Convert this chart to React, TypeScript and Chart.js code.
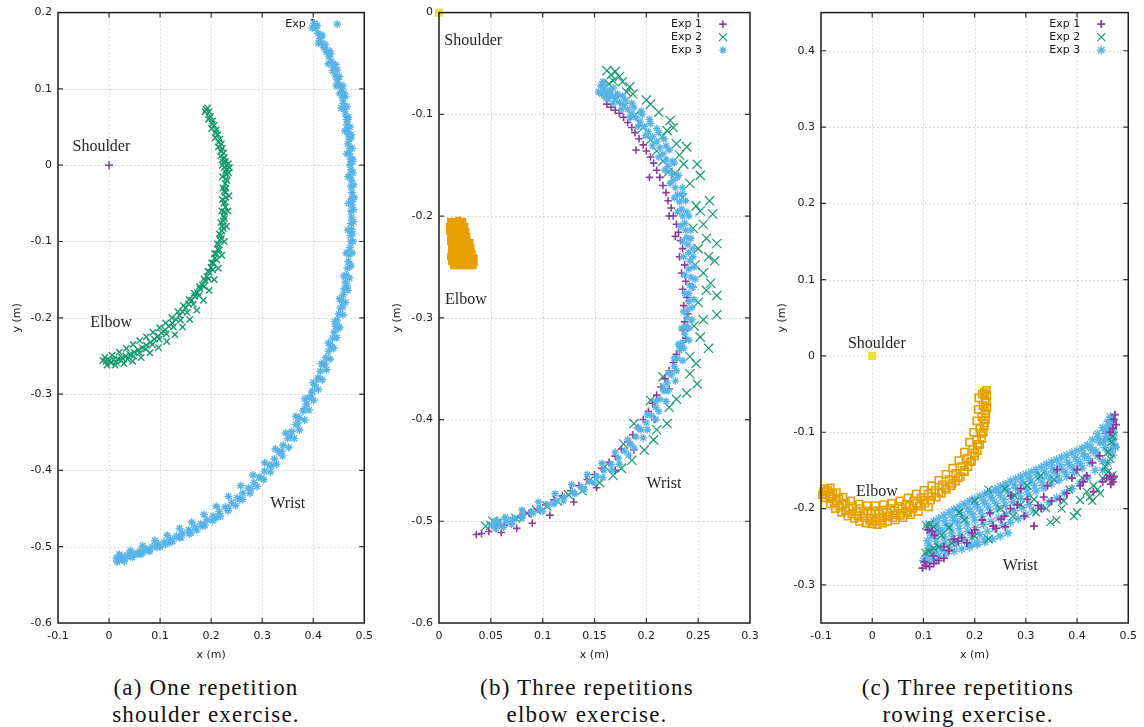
import React, { useEffect, useRef } from "react";
import { Chart, registerables } from "chart.js";

Chart.register(...registerables);

type Pt = [number, number];
type Mark = "cross" | "crossRot" | "star" | "rect";

const PURPLE = "#8c3d9e";
const GREEN = "#17996f";
const BLUE = "#58b3e6";
const ORANGE = "#e6a000";
const YELLOW = "#efe143";

// ---------- tick positions ----------
const ticksAX = [-0.1, 0, 0.1, 0.2, 0.3, 0.4, 0.5];
const ticksAY = [-0.6, -0.5, -0.4, -0.3, -0.2, -0.1, 0, 0.1, 0.2];
const ticksBX = [0, 0.05, 0.1, 0.15, 0.2, 0.25, 0.3];
const ticksBY = [-0.6, -0.5, -0.4, -0.3, -0.2, -0.1, 0];
const ticksCX = [-0.1, 0, 0.1, 0.2, 0.3, 0.4, 0.5];
const ticksCY = [-0.3, -0.2, -0.1, 0, 0.1, 0.2, 0.3, 0.4];

// ---------- (a) one repetition, shoulder exercise ----------
const shoulderA: Pt[] = [[0, 0]];

const elbowA: Pt[] = [
  [0.193, 0.075], [0.196, 0.07], [0.199, 0.064], [0.203, 0.058], [0.206, 0.052], [0.21, 0.046], [0.213, 0.04],
  [0.217, 0.034], [0.22, 0.028], [0.222, 0.022], [0.225, 0.016], [0.226, 0.01], [0.228, 0.005], [0.23, 0.0],
  [0.226, -0.003], [0.232, -0.005], [0.228, -0.008], [0.234, 0.002], [0.224, 0.004], [0.23, -0.012], [0.229, -0.018],
  [0.228, -0.024], [0.229, -0.03], [0.228, -0.036], [0.229, -0.042], [0.227, -0.048], [0.228, -0.055], [0.226, -0.061],
  [0.225, -0.067], [0.224, -0.073], [0.222, -0.08], [0.221, -0.086], [0.219, -0.092], [0.217, -0.098], [0.215, -0.104],
  [0.213, -0.11], [0.21, -0.116], [0.207, -0.122], [0.204, -0.128], [0.2, -0.134], [0.196, -0.14], [0.192, -0.146],
  [0.188, -0.151], [0.183, -0.157], [0.178, -0.162], [0.173, -0.167], [0.168, -0.172], [0.162, -0.177], [0.156, -0.182],
  [0.15, -0.187], [0.144, -0.192], [0.138, -0.197], [0.131, -0.202], [0.124, -0.207], [0.117, -0.211], [0.11, -0.216],
  [0.103, -0.22], [0.096, -0.224], [0.089, -0.228], [0.081, -0.232], [0.073, -0.236], [0.065, -0.239], [0.057, -0.242],
  [0.049, -0.245], [0.041, -0.248], [0.033, -0.25], [0.025, -0.252], [0.017, -0.254], [0.009, -0.255], [0.001, -0.256],
  [-0.006, -0.257], [-0.012, -0.256], [0.004, -0.259], [0.014, -0.258], [0.024, -0.256], [0.036, -0.254], [0.048, -0.25],
  [0.06, -0.246], [0.072, -0.241], [0.085, -0.235], [0.098, -0.228], [0.112, -0.221], [0.126, -0.212], [0.14, -0.203],
  [0.153, -0.193], [0.165, -0.182], [0.176, -0.171], [0.186, -0.159], [0.195, -0.149], [0.203, -0.137], [0.211, -0.124],
  [0.216, -0.111], [0.22, -0.096], [0.224, -0.083], [0.226, -0.07], [0.225, -0.05], [0.226, -0.034], [0.231, -0.02],
  [0.223, 0.008], [0.219, 0.018], [0.215, 0.03], [0.209, 0.042], [0.202, 0.054], [0.197, 0.062], [0.19, 0.073],
  [0.188, 0.07], [0.195, 0.06], [0.201, 0.048], [0.208, 0.036], [0.214, 0.024], [0.219, 0.012], [0.222, 0.0],
  [0.222, -0.015], [0.223, -0.03], [0.222, -0.045], [0.221, -0.06], [0.219, -0.075], [0.216, -0.09], [0.212, -0.103],
  [0.207, -0.116], [0.201, -0.128], [0.194, -0.139], [0.186, -0.149], [0.177, -0.159], [0.167, -0.168], [0.157, -0.176],
  [0.146, -0.184], [0.135, -0.192], [0.123, -0.2], [0.111, -0.207], [0.099, -0.213], [0.086, -0.219], [0.073, -0.225],
  [0.06, -0.23], [0.047, -0.235], [0.034, -0.24], [0.02, -0.245], [0.006, -0.249], [-0.008, -0.252],
  [0.236, -0.003], [0.234, -0.01], [0.235, -0.04], [0.233, -0.06], [0.23, -0.08], [0.226, -0.1], [0.221, -0.118],
  [0.214, -0.135], [0.206, -0.15], [0.196, -0.164], [0.185, -0.177], [0.172, -0.19], [0.158, -0.202], [0.144, -0.212],
  [0.129, -0.222], [0.113, -0.231], [0.097, -0.239], [0.08, -0.246], [0.063, -0.252], [0.046, -0.257], [0.029, -0.26],
  [0.012, -0.262], [-0.004, -0.262],
];

const wristA: Pt[] = [
  [0.402, 0.186], [0.405, 0.18], [0.409, 0.173], [0.413, 0.166], [0.417, 0.16], [0.421, 0.154], [0.426, 0.148],
  [0.431, 0.142], [0.436, 0.136], [0.44, 0.13], [0.438, 0.124], [0.443, 0.118], [0.447, 0.112], [0.45, 0.106],
  [0.455, 0.1], [0.452, 0.094], [0.457, 0.088], [0.459, 0.081], [0.461, 0.074], [0.463, 0.067], [0.465, 0.06],
  [0.466, 0.053], [0.467, 0.046], [0.469, 0.04], [0.471, 0.034], [0.468, 0.028], [0.472, 0.022], [0.471, 0.015],
  [0.473, 0.008], [0.472, 0.001], [0.474, -0.006], [0.473, -0.013], [0.475, -0.02], [0.474, -0.028], [0.476, -0.036],
  [0.475, -0.044], [0.476, -0.052], [0.474, -0.06], [0.475, -0.068], [0.474, -0.076], [0.475, -0.084], [0.473, -0.092],
  [0.474, -0.1], [0.472, -0.108], [0.47, -0.117], [0.469, -0.126], [0.467, -0.135], [0.465, -0.144], [0.463, -0.153],
  [0.461, -0.162], [0.459, -0.17], [0.456, -0.178], [0.453, -0.187], [0.45, -0.195], [0.447, -0.203], [0.444, -0.211],
  [0.441, -0.219], [0.438, -0.227], [0.434, -0.236], [0.43, -0.244], [0.425, -0.252], [0.42, -0.261], [0.414, -0.27],
  [0.409, -0.279], [0.403, -0.288], [0.398, -0.296], [0.393, -0.305], [0.387, -0.313], [0.38, -0.322], [0.373, -0.331],
  [0.366, -0.34], [0.358, -0.349], [0.35, -0.358], [0.341, -0.367], [0.333, -0.376], [0.324, -0.385], [0.314, -0.393],
  [0.304, -0.401], [0.294, -0.409], [0.284, -0.416], [0.273, -0.423], [0.262, -0.43], [0.251, -0.436], [0.24, -0.442],
  [0.228, -0.448], [0.216, -0.454], [0.204, -0.46], [0.192, -0.465], [0.18, -0.47], [0.168, -0.474], [0.156, -0.478],
  [0.144, -0.482], [0.132, -0.486], [0.12, -0.49], [0.108, -0.494], [0.096, -0.497], [0.084, -0.5], [0.072, -0.503],
  [0.06, -0.506], [0.048, -0.509], [0.036, -0.511], [0.025, -0.513], [0.014, -0.515], [0.02, -0.518], [0.03, -0.516],
  [0.042, -0.513], [0.055, -0.51], [0.066, -0.508], [0.08, -0.505], [0.1, -0.5], [0.118, -0.495], [0.138, -0.488],
  [0.16, -0.482], [0.184, -0.473], [0.21, -0.462], [0.234, -0.45], [0.256, -0.438], [0.278, -0.424], [0.298, -0.41],
  [0.318, -0.394], [0.338, -0.375], [0.355, -0.356], [0.37, -0.338], [0.384, -0.319], [0.396, -0.301], [0.411, -0.28],
  [0.423, -0.26], [0.436, -0.238], [0.449, -0.214], [0.458, -0.186], [0.466, -0.158], [0.471, -0.13], [0.477, -0.09],
  [0.478, -0.045], [0.477, 0.005], [0.474, 0.04], [0.468, 0.06], [0.46, 0.095], [0.447, 0.125], [0.432, 0.15],
  [0.418, 0.17],
  [0.408, 0.183], [0.415, 0.17], [0.424, 0.158], [0.434, 0.146], [0.444, 0.132], [0.451, 0.116], [0.458, 0.104],
  [0.463, 0.09], [0.466, 0.077], [0.469, 0.063], [0.472, 0.05], [0.474, 0.036], [0.476, 0.022], [0.477, 0.008],
  [0.478, -0.01], [0.479, -0.026], [0.48, -0.042], [0.479, -0.058], [0.479, -0.074], [0.478, -0.1], [0.476, -0.115],
  [0.474, -0.132], [0.471, -0.148], [0.468, -0.164], [0.463, -0.18], [0.458, -0.196], [0.452, -0.212], [0.446, -0.226],
  [0.44, -0.24], [0.433, -0.254], [0.426, -0.268], [0.418, -0.281], [0.41, -0.294], [0.401, -0.308], [0.392, -0.321],
  [0.383, -0.334], [0.373, -0.347], [0.363, -0.358], [0.352, -0.37], [0.34, -0.381], [0.328, -0.392], [0.316, -0.402],
  [0.303, -0.412], [0.29, -0.421], [0.276, -0.43], [0.262, -0.438], [0.248, -0.446], [0.233, -0.453], [0.218, -0.46],
  [0.203, -0.466], [0.188, -0.472], [0.172, -0.478], [0.157, -0.483], [0.141, -0.488], [0.125, -0.493], [0.11, -0.497],
  [0.094, -0.501], [0.078, -0.506], [0.062, -0.51], [0.046, -0.514], [0.03, -0.519], [0.016, -0.52],
  [0.398, 0.18], [0.41, 0.16], [0.43, 0.133], [0.445, 0.104], [0.455, 0.075], [0.462, 0.045], [0.466, 0.015],
  [0.468, -0.015], [0.469, -0.05], [0.468, -0.085], [0.465, -0.115], [0.46, -0.145], [0.452, -0.175], [0.442, -0.205],
  [0.43, -0.233], [0.416, -0.26], [0.4, -0.285], [0.384, -0.306], [0.366, -0.329], [0.346, -0.351], [0.326, -0.372],
  [0.305, -0.39], [0.282, -0.406], [0.258, -0.42], [0.234, -0.434], [0.21, -0.447], [0.186, -0.458], [0.162, -0.468],
  [0.138, -0.476], [0.114, -0.485], [0.09, -0.492], [0.066, -0.499], [0.042, -0.505], [0.02, -0.51],
];

// ---------- (b) three repetitions, elbow exercise ----------
const shoulderB: Pt[] = [[0, 0]];

const elbowB: Pt[] = [
  [0.011, -0.205], [0.015, -0.205], [0.019, -0.204], [0.023, -0.205],
  [0.01, -0.21], [0.014, -0.21], [0.018, -0.21], [0.022, -0.21], [0.025, -0.21],
  [0.01, -0.215], [0.014, -0.215], [0.018, -0.215], [0.022, -0.215], [0.026, -0.215],
  [0.011, -0.22], [0.015, -0.22], [0.019, -0.22], [0.023, -0.22], [0.027, -0.22],
  [0.011, -0.225], [0.015, -0.225], [0.019, -0.225], [0.023, -0.225], [0.027, -0.225], [0.03, -0.226],
  [0.012, -0.23], [0.016, -0.23], [0.02, -0.23], [0.024, -0.23], [0.028, -0.23], [0.031, -0.231],
  [0.012, -0.235], [0.016, -0.235], [0.02, -0.235], [0.024, -0.235], [0.028, -0.235], [0.032, -0.236],
  [0.011, -0.24], [0.015, -0.24], [0.019, -0.24], [0.023, -0.24], [0.027, -0.24], [0.031, -0.24], [0.034, -0.241],
  [0.012, -0.245], [0.016, -0.245], [0.02, -0.245], [0.024, -0.245], [0.028, -0.245], [0.032, -0.245], [0.034, -0.246],
  [0.014, -0.249], [0.018, -0.249], [0.022, -0.249], [0.026, -0.249], [0.03, -0.249], [0.033, -0.249],
];

const exp1B: Pt[] = [
  [0.162, -0.09], [0.166, -0.093], [0.17, -0.096], [0.174, -0.099], [0.178, -0.103], [0.182, -0.108], [0.186, -0.113],
  [0.189, -0.118], [0.193, -0.124], [0.197, -0.13], [0.2, -0.136], [0.204, -0.142], [0.207, -0.148], [0.21, -0.155],
  [0.213, -0.162], [0.216, -0.17], [0.219, -0.177], [0.221, -0.185], [0.224, -0.192], [0.226, -0.2], [0.229, -0.208],
  [0.231, -0.216], [0.233, -0.224], [0.235, -0.232], [0.232, -0.24], [0.237, -0.248], [0.234, -0.256], [0.238, -0.264],
  [0.235, -0.272], [0.239, -0.28], [0.236, -0.288], [0.24, -0.296], [0.237, -0.304], [0.235, -0.312], [0.238, -0.32],
  [0.233, -0.328], [0.229, -0.336], [0.226, -0.344], [0.222, -0.352], [0.218, -0.36], [0.214, -0.368], [0.21, -0.376],
  [0.206, -0.384], [0.202, -0.392], [0.197, -0.4], [0.192, -0.408], [0.187, -0.415], [0.182, -0.422], [0.176, -0.429],
  [0.17, -0.436], [0.164, -0.442], [0.157, -0.448], [0.15, -0.454], [0.143, -0.459], [0.135, -0.465], [0.127, -0.47],
  [0.119, -0.475], [0.111, -0.479], [0.103, -0.484], [0.095, -0.488], [0.087, -0.492], [0.079, -0.496], [0.071, -0.5],
  [0.063, -0.504], [0.055, -0.507], [0.048, -0.51], [0.041, -0.512], [0.036, -0.513], [0.06, -0.511], [0.075, -0.507],
  [0.09, -0.502], [0.107, -0.494], [0.13, -0.481], [0.152, -0.467], [0.17, -0.45], [0.188, -0.43], [0.208, -0.4],
  [0.222, -0.37], [0.24, -0.31], [0.245, -0.27], [0.228, -0.22], [0.222, -0.2], [0.203, -0.162], [0.19, -0.135],
];

const exp2B: Pt[] = [
  [0.162, -0.057], [0.166, -0.061], [0.17, -0.058], [0.174, -0.063], [0.168, -0.067], [0.177, -0.068], [0.164, -0.07],
  [0.184, -0.073], [0.187, -0.08], [0.181, -0.078], [0.162, -0.08], [0.17, -0.086], [0.178, -0.093], [0.188, -0.102],
  [0.197, -0.113], [0.204, -0.125], [0.21, -0.136], [0.216, -0.146], [0.221, -0.157], [0.204, -0.09], [0.2, -0.086],
  [0.212, -0.098], [0.223, -0.106], [0.226, -0.113], [0.22, -0.116], [0.215, -0.122], [0.229, -0.129], [0.239, -0.132],
  [0.232, -0.14], [0.249, -0.149], [0.236, -0.149], [0.252, -0.16], [0.242, -0.168], [0.228, -0.158], [0.235, -0.182],
  [0.261, -0.185], [0.248, -0.19], [0.264, -0.198], [0.252, -0.195], [0.255, -0.208], [0.245, -0.212], [0.268, -0.227],
  [0.258, -0.222], [0.25, -0.232], [0.266, -0.244], [0.26, -0.24], [0.247, -0.248], [0.255, -0.256], [0.258, -0.273],
  [0.268, -0.278], [0.262, -0.266], [0.25, -0.285], [0.255, -0.302], [0.268, -0.297], [0.246, -0.308], [0.252, -0.319],
  [0.26, -0.33], [0.242, -0.338], [0.248, -0.345], [0.242, -0.355], [0.249, -0.365], [0.239, -0.374], [0.216, -0.358],
  [0.229, -0.38], [0.222, -0.388], [0.204, -0.381], [0.22, -0.404], [0.21, -0.41], [0.207, -0.42], [0.188, -0.404],
  [0.178, -0.424], [0.198, -0.43], [0.186, -0.44], [0.176, -0.448], [0.168, -0.455], [0.155, -0.462], [0.16, -0.446],
  [0.145, -0.46], [0.138, -0.47], [0.125, -0.474], [0.114, -0.48], [0.104, -0.485], [0.094, -0.489], [0.085, -0.492],
  [0.074, -0.497], [0.065, -0.5], [0.056, -0.502], [0.05, -0.504], [0.052, -0.5], [0.045, -0.505],
];

const exp3B: Pt[] = [
  [0.156, -0.072], [0.159, -0.075], [0.162, -0.078], [0.166, -0.081], [0.17, -0.084], [0.174, -0.088], [0.178, -0.091],
  [0.182, -0.095], [0.186, -0.099], [0.19, -0.103], [0.194, -0.107], [0.198, -0.112], [0.202, -0.117], [0.206, -0.122],
  [0.21, -0.127], [0.213, -0.133], [0.216, -0.139], [0.219, -0.145], [0.221, -0.151], [0.224, -0.158], [0.226, -0.165],
  [0.228, -0.172], [0.23, -0.179], [0.232, -0.186], [0.234, -0.193], [0.235, -0.2], [0.237, -0.207], [0.238, -0.214],
  [0.239, -0.221], [0.24, -0.228], [0.241, -0.236], [0.242, -0.244], [0.241, -0.252], [0.243, -0.26], [0.242, -0.268],
  [0.241, -0.276], [0.241, -0.284], [0.24, -0.292], [0.239, -0.3], [0.238, -0.308], [0.237, -0.316], [0.235, -0.324],
  [0.232, -0.332], [0.23, -0.34], [0.227, -0.348], [0.224, -0.356], [0.22, -0.364], [0.217, -0.372], [0.213, -0.38],
  [0.209, -0.388], [0.205, -0.396], [0.2, -0.403], [0.195, -0.41], [0.19, -0.417], [0.185, -0.424], [0.179, -0.431],
  [0.173, -0.438], [0.166, -0.444], [0.159, -0.45], [0.152, -0.456], [0.145, -0.461], [0.137, -0.466], [0.129, -0.471],
  [0.121, -0.476], [0.113, -0.48], [0.105, -0.484], [0.097, -0.488], [0.089, -0.491], [0.081, -0.494], [0.073, -0.497],
  [0.065, -0.5], [0.058, -0.502], [0.051, -0.504], [0.055, -0.507], [0.062, -0.506], [0.07, -0.503], [0.165, -0.076],
  [0.172, -0.08], [0.18, -0.086], [0.188, -0.093], [0.196, -0.1], [0.204, -0.109], [0.212, -0.118], [0.219, -0.131],
  [0.225, -0.146], [0.23, -0.162], [0.235, -0.178], [0.239, -0.196], [0.243, -0.214], [0.245, -0.232], [0.246, -0.25],
  [0.245, -0.27], [0.244, -0.29], [0.241, -0.31], [0.236, -0.33], [0.229, -0.352], [0.221, -0.372], [0.212, -0.392],
  [0.201, -0.41], [0.188, -0.428], [0.174, -0.444], [0.158, -0.457], [0.14, -0.469], [0.12, -0.48], [0.1, -0.49],
  [0.08, -0.497], [0.16, -0.07], [0.157, -0.08], [0.163, -0.085],
  [0.158, -0.068], [0.168, -0.074], [0.177, -0.082], [0.186, -0.089], [0.195, -0.097], [0.203, -0.105], [0.21, -0.114],
  [0.217, -0.124], [0.222, -0.135], [0.227, -0.148], [0.231, -0.16], [0.235, -0.172], [0.238, -0.185], [0.241, -0.2],
  [0.243, -0.222], [0.245, -0.24], [0.247, -0.262], [0.246, -0.282], [0.244, -0.302], [0.241, -0.322], [0.235, -0.342],
  [0.228, -0.362], [0.219, -0.382], [0.209, -0.4], [0.197, -0.418], [0.183, -0.435], [0.167, -0.45], [0.15, -0.462],
  [0.131, -0.473], [0.111, -0.483], [0.091, -0.492], [0.071, -0.5], [0.057, -0.5],
  [0.154, -0.078], [0.161, -0.084], [0.168, -0.089], [0.176, -0.095], [0.184, -0.103], [0.192, -0.112], [0.199, -0.121],
  [0.206, -0.131], [0.212, -0.142], [0.218, -0.155], [0.223, -0.168], [0.227, -0.182], [0.23, -0.196], [0.233, -0.21],
  [0.235, -0.225], [0.236, -0.24], [0.237, -0.258], [0.237, -0.276], [0.236, -0.294], [0.234, -0.31], [0.231, -0.326],
  [0.227, -0.34], [0.222, -0.354], [0.216, -0.368], [0.209, -0.382], [0.201, -0.395], [0.192, -0.408], [0.182, -0.42],
  [0.17, -0.432], [0.157, -0.443], [0.143, -0.454], [0.128, -0.464], [0.112, -0.473], [0.096, -0.481], [0.08, -0.489],
  [0.064, -0.496], [0.054, -0.5],
];

// ---------- (c) three repetitions, rowing exercise ----------
const shoulderC: Pt[] = [[0, 0]];

const elbowC: Pt[] = [
  [0.223, -0.045], [0.224, -0.052], [0.223, -0.06], [0.224, -0.068], [0.222, -0.076], [0.221, -0.084], [0.219, -0.092],
  [0.217, -0.1], [0.214, -0.108], [0.21, -0.116], [0.205, -0.124], [0.2, -0.131], [0.194, -0.138], [0.187, -0.145],
  [0.18, -0.152], [0.172, -0.158], [0.163, -0.164], [0.154, -0.17], [0.145, -0.175], [0.135, -0.18], [0.125, -0.185],
  [0.114, -0.189], [0.103, -0.193], [0.092, -0.197], [0.08, -0.2], [0.068, -0.203], [0.056, -0.206], [0.044, -0.208],
  [0.032, -0.21], [0.02, -0.212], [0.008, -0.213], [-0.004, -0.213], [-0.016, -0.212], [-0.028, -0.21], [-0.04, -0.207],
  [-0.052, -0.203], [-0.063, -0.198], [-0.074, -0.193], [-0.083, -0.187], [-0.09, -0.181], [-0.095, -0.178],
  [0.215, -0.05], [0.216, -0.065], [0.214, -0.08], [0.21, -0.095], [0.204, -0.11], [0.196, -0.122], [0.186, -0.134],
  [0.175, -0.145], [0.163, -0.154], [0.15, -0.162], [0.137, -0.169], [0.123, -0.176], [0.109, -0.181], [0.095, -0.186],
  [0.081, -0.19], [0.066, -0.194], [0.051, -0.197], [0.036, -0.2], [0.021, -0.202], [0.006, -0.203], [-0.009, -0.203],
  [-0.024, -0.2], [-0.038, -0.197], [-0.052, -0.193], [-0.065, -0.187], [-0.077, -0.181], [-0.087, -0.176], [-0.093, -0.174],
  [0.0, -0.22], [0.01, -0.221], [0.02, -0.219], [0.03, -0.217], [0.045, -0.215], [0.06, -0.212], [-0.012, -0.219],
  [-0.025, -0.217], [0.075, -0.208], [0.09, -0.204], [0.11, -0.198],
  [0.219, -0.048], [0.22, -0.058], [0.22, -0.072], [0.218, -0.088], [0.213, -0.102], [0.207, -0.116], [0.2, -0.127],
  [0.191, -0.139], [0.18, -0.15], [0.168, -0.16], [0.156, -0.167], [0.143, -0.173], [0.13, -0.179], [0.116, -0.184],
  [0.102, -0.189], [0.087, -0.193], [0.073, -0.197], [0.058, -0.2], [0.043, -0.203], [0.028, -0.205], [0.013, -0.207],
  [-0.002, -0.207], [-0.017, -0.206], [-0.031, -0.204], [-0.045, -0.2], [-0.058, -0.195], [-0.07, -0.19], [-0.081, -0.184],
  [-0.09, -0.178], [0.005, -0.217], [0.015, -0.216], [-0.005, -0.216], [0.04, -0.212], [0.055, -0.209], [0.07, -0.205],
  [-0.035, -0.213], [-0.048, -0.21], [-0.06, -0.205], [-0.072, -0.2], [-0.082, -0.194], [-0.092, -0.186], [-0.097, -0.182],
  [0.208, -0.055], [0.207, -0.07], [0.204, -0.085], [0.198, -0.1], [0.19, -0.113], [0.18, -0.126], [0.169, -0.137],
  [0.157, -0.147], [0.144, -0.155], [0.13, -0.163], [0.116, -0.17], [0.101, -0.176], [0.086, -0.181], [0.07, -0.186],
  [0.054, -0.19], [0.038, -0.193], [0.022, -0.195], [0.006, -0.196], [-0.01, -0.196], [-0.026, -0.194], [-0.042, -0.19],
  [-0.057, -0.185], [-0.07, -0.179], [-0.082, -0.173],
];

const exp1C: Pt[] = [
  [0.098, -0.278], [0.105, -0.275], [0.112, -0.276], [0.12, -0.272], [0.13, -0.268], [0.14, -0.265], [0.102, -0.27],
  [0.117, -0.23], [0.122, -0.235], [0.16, -0.24], [0.168, -0.243], [0.175, -0.238], [0.195, -0.232], [0.2, -0.228],
  [0.236, -0.223], [0.242, -0.226], [0.252, -0.214], [0.258, -0.21], [0.27, -0.2], [0.271, -0.183], [0.29, -0.174],
  [0.297, -0.21], [0.303, -0.188], [0.316, -0.223], [0.324, -0.196], [0.33, -0.2], [0.342, -0.17], [0.35, -0.19],
  [0.361, -0.149], [0.367, -0.188], [0.38, -0.18], [0.4, -0.149], [0.406, -0.17], [0.412, -0.165], [0.419, -0.157],
  [0.432, -0.178], [0.444, -0.131], [0.45, -0.165], [0.458, -0.16], [0.464, -0.157], [0.468, -0.162], [0.47, -0.165],
  [0.472, -0.158], [0.466, -0.168], [0.474, -0.077], [0.472, -0.083], [0.476, -0.09], [0.47, -0.095], [0.465, -0.1],
  [0.215, -0.215], [0.23, -0.206], [0.14, -0.25], [0.15, -0.255], [0.185, -0.245], [0.283, -0.195], [0.39, -0.16],
  [0.43, -0.14], [0.335, -0.185], [0.26, -0.224], [0.12, -0.262], [0.108, -0.228],
];

const exp2C: Pt[] = [
  [0.105, -0.222], [0.112, -0.221], [0.12, -0.224], [0.104, -0.258], [0.11, -0.256], [0.12, -0.252], [0.13, -0.25],
  [0.155, -0.245], [0.2, -0.236], [0.227, -0.24], [0.227, -0.175], [0.259, -0.174], [0.278, -0.183], [0.303, -0.17],
  [0.316, -0.188], [0.329, -0.157], [0.348, -0.218], [0.355, -0.162], [0.36, -0.215], [0.374, -0.19], [0.394, -0.21],
  [0.4, -0.205], [0.406, -0.189], [0.419, -0.178], [0.425, -0.185], [0.432, -0.17], [0.44, -0.175], [0.45, -0.16],
  [0.46, -0.152], [0.47, -0.156], [0.46, -0.126], [0.467, -0.113], [0.47, -0.105], [0.465, -0.135], [0.455, -0.145],
  [0.25, -0.2], [0.275, -0.21], [0.29, -0.195], [0.34, -0.2], [0.385, -0.175], [0.41, -0.16], [0.18, -0.215],
  [0.15, -0.225], [0.135, -0.235], [0.32, -0.205], [0.37, -0.2], [0.43, -0.19], [0.445, -0.18], [0.2, -0.19],
  [0.17, -0.205],
];

const exp3C: Pt[] = [
  [0.11, -0.222], [0.12, -0.217], [0.13, -0.213], [0.14, -0.209], [0.15, -0.205], [0.16, -0.201], [0.17, -0.198],
  [0.18, -0.194], [0.19, -0.19], [0.2, -0.187], [0.21, -0.184], [0.22, -0.181], [0.23, -0.179], [0.24, -0.175],
  [0.25, -0.171], [0.26, -0.168], [0.27, -0.164], [0.28, -0.161], [0.29, -0.158], [0.3, -0.155], [0.31, -0.152],
  [0.32, -0.149], [0.33, -0.146], [0.34, -0.142], [0.35, -0.139], [0.36, -0.136], [0.37, -0.133], [0.38, -0.13],
  [0.39, -0.127], [0.4, -0.124], [0.41, -0.121], [0.42, -0.117], [0.43, -0.11], [0.44, -0.102], [0.45, -0.094],
  [0.46, -0.086], [0.465, -0.08], [0.47, -0.085],
  [0.115, -0.235], [0.13, -0.228], [0.145, -0.222], [0.16, -0.216], [0.175, -0.21], [0.19, -0.204], [0.205, -0.198],
  [0.22, -0.193], [0.235, -0.188], [0.25, -0.183], [0.265, -0.178], [0.28, -0.173], [0.295, -0.168], [0.31, -0.164],
  [0.325, -0.16], [0.34, -0.156], [0.355, -0.152], [0.37, -0.148], [0.385, -0.143], [0.4, -0.138], [0.415, -0.132],
  [0.43, -0.124], [0.445, -0.114], [0.458, -0.102], [0.468, -0.094],
  [0.11, -0.248], [0.125, -0.243], [0.14, -0.237], [0.155, -0.232], [0.17, -0.226], [0.185, -0.221], [0.2, -0.215],
  [0.215, -0.21], [0.23, -0.205], [0.245, -0.2], [0.26, -0.196], [0.275, -0.191], [0.29, -0.187], [0.305, -0.182],
  [0.32, -0.177], [0.335, -0.173], [0.35, -0.168], [0.365, -0.163], [0.38, -0.158], [0.395, -0.153], [0.41, -0.147],
  [0.425, -0.14], [0.44, -0.131], [0.455, -0.12], [0.466, -0.11], [0.472, -0.1],
  [0.105, -0.262], [0.12, -0.258], [0.135, -0.254], [0.15, -0.25], [0.165, -0.246], [0.18, -0.242], [0.195, -0.238],
  [0.21, -0.234], [0.225, -0.23], [0.24, -0.226], [0.255, -0.222], [0.27, -0.218], [0.285, -0.213], [0.3, -0.208],
  [0.315, -0.203], [0.33, -0.198], [0.345, -0.192], [0.36, -0.186], [0.375, -0.18], [0.39, -0.174], [0.405, -0.167],
  [0.42, -0.16], [0.435, -0.15], [0.45, -0.138], [0.462, -0.126], [0.47, -0.115],
  [0.108, -0.27], [0.125, -0.268], [0.19, -0.248], [0.205, -0.245], [0.22, -0.24], [0.45, -0.15], [0.46, -0.14],
  [0.47, -0.13], [0.475, -0.12], [0.455, -0.108],
  [0.112, -0.228], [0.127, -0.222], [0.142, -0.216], [0.157, -0.211], [0.172, -0.205], [0.187, -0.2], [0.202, -0.195],
  [0.217, -0.19], [0.232, -0.185], [0.247, -0.179], [0.262, -0.174], [0.277, -0.169], [0.292, -0.165], [0.307, -0.161],
  [0.322, -0.156], [0.337, -0.151], [0.352, -0.147], [0.367, -0.143], [0.382, -0.139], [0.397, -0.133], [0.412, -0.128],
  [0.427, -0.12], [0.442, -0.109], [0.455, -0.098], [0.464, -0.09],
  [0.108, -0.242], [0.122, -0.236], [0.137, -0.23], [0.152, -0.224], [0.167, -0.218], [0.182, -0.213], [0.197, -0.208],
  [0.212, -0.203], [0.227, -0.198], [0.242, -0.193], [0.257, -0.188], [0.272, -0.184], [0.287, -0.18], [0.302, -0.175],
  [0.317, -0.17], [0.332, -0.166], [0.347, -0.161], [0.362, -0.157], [0.377, -0.152], [0.392, -0.147], [0.407, -0.141],
  [0.422, -0.134], [0.437, -0.125], [0.452, -0.113], [0.463, -0.103],
  [0.112, -0.255], [0.127, -0.25], [0.142, -0.245], [0.157, -0.24], [0.172, -0.235], [0.187, -0.23], [0.202, -0.225],
  [0.217, -0.221], [0.232, -0.217], [0.247, -0.212], [0.262, -0.207], [0.277, -0.203], [0.292, -0.199], [0.307, -0.195],
  [0.1, -0.268], [0.115, -0.265], [0.13, -0.262], [0.145, -0.259], [0.16, -0.256], [0.175, -0.253], [0.19, -0.25],
  [0.205, -0.247], [0.22, -0.244], [0.235, -0.24], [0.25, -0.236], [0.265, -0.232],
  [0.468, -0.1], [0.472, -0.108], [0.462, -0.095], [0.474, -0.118], [0.466, -0.125],
];

// ---------- panel descriptions ----------
interface Series {
  label: string;
  data: Pt[];
  mark: Mark;
  color: string;
  radius: number;
  filled?: boolean;
  lineWidth?: number;
  order: number;
  keyRow?: number;
}

interface Note {
  text: string;
  at: Pt;
}

interface PanelSpec {
  left: number;
  width: number;
  height: number;
  plotLeft: number;
  padTop: number;
  padRight: number;
  plotBottom: number;
  xRange: [number, number];
  yRange: [number, number];
  xTicks: number[];
  yTicks: number[];
  yTitleX: number;
  series: Series[];
  notes: Note[];
  caption: [string, string];
  captionX: number;
}

const PANELS: PanelSpec[] = [
  {
    left: 0, width: 380, height: 670, plotLeft: 58, padTop: 12, padRight: 11, plotBottom: 623,
    xRange: [-0.1, 0.5], yRange: [-0.6, 0.2], xTicks: ticksAX, yTicks: ticksAY, yTitleX: 17,
    series: [
      { label: "Shoulder", data: shoulderA, mark: "cross", color: PURPLE, radius: 4, lineWidth: 1.5, order: 0 },
      { label: "Elbow", data: elbowA, mark: "crossRot", color: GREEN, radius: 4.5, lineWidth: 1.4, order: 2 },
      { label: "Exp 1", data: wristA, mark: "star", color: BLUE, radius: 4, lineWidth: 1.4, order: 1, keyRow: 0 },
    ],
    notes: [
      { text: "Shoulder", at: [-0.015, 0.0245] },
      { text: "Elbow", at: [0.004, -0.206] },
      { text: "Wrist", at: [0.35, -0.4435] },
    ],
    caption: ["(a) One repetition", "shoulder exercise."],
    captionX: 206,
  },
  {
    left: 380, width: 390, height: 670, plotLeft: 59, padTop: 12, padRight: 20, plotBottom: 623,
    xRange: [0, 0.3], yRange: [-0.6, 0], xTicks: ticksBX, yTicks: ticksBY, yTitleX: 17,
    series: [
      { label: "Shoulder", data: shoulderB, mark: "rect", color: YELLOW, radius: 5, filled: true, order: 0 },
      { label: "Elbow", data: elbowB, mark: "rect", color: ORANGE, radius: 4, filled: true, order: 4 },
      { label: "Exp 3", data: exp3B, mark: "star", color: BLUE, radius: 3.8, lineWidth: 1.4, order: 1, keyRow: 2 },
      { label: "Exp 1", data: exp1B, mark: "cross", color: PURPLE, radius: 3.8, lineWidth: 1.6, order: 2, keyRow: 0 },
      { label: "Exp 2", data: exp2B, mark: "crossRot", color: GREEN, radius: 6.5, lineWidth: 1.2, order: 3, keyRow: 1 },
    ],
    notes: [
      { text: "Shoulder", at: [0.033, -0.0275] },
      { text: "Elbow", at: [0.026, -0.282] },
      { text: "Wrist", at: [0.217, -0.4635] },
    ],
    caption: ["(b) Three repetitions", "elbow exercise."],
    captionX: 587,
  },
  {
    left: 770, width: 374, height: 670, plotLeft: 51, padTop: 12, padRight: 12, plotBottom: 623,
    xRange: [-0.1, 0.5], yRange: [-0.35, 0.45], xTicks: ticksCX, yTicks: ticksCY, yTitleX: 12,
    series: [
      { label: "Shoulder", data: shoulderC, mark: "rect", color: YELLOW, radius: 5, filled: true, order: 0 },
      { label: "Elbow", data: elbowC, mark: "rect", color: ORANGE, radius: 5, lineWidth: 1.6, order: 4 },
      { label: "Exp 1", data: exp1C, mark: "cross", color: PURPLE, radius: 4, lineWidth: 1.8, order: 1, keyRow: 0 },
      { label: "Exp 2", data: exp2C, mark: "crossRot", color: GREEN, radius: 5.5, lineWidth: 1.2, order: 2, keyRow: 1 },
      { label: "Exp 3", data: exp3C, mark: "star", color: BLUE, radius: 4.5, lineWidth: 1.4, order: 3, keyRow: 2 },
    ],
    notes: [
      { text: "Shoulder", at: [0.009, 0.0153] },
      { text: "Elbow", at: [0.009, -0.178] },
      { text: "Wrist", at: [0.289, -0.275] },
    ],
    caption: ["(c) Three repetitions", "rowing exercise."],
    captionX: 968,
  },
];

const SANS = '"DejaVu Sans", sans-serif';
const SERIF = '"Liberation Serif", serif';

function fmt(v: number): string {
  const r = Math.round(v * 100) / 100;
  return r === 0 ? "0" : String(r);
}

// key glyph in the same style as the plotted markers
function drawGlyph(ctx: CanvasRenderingContext2D, s: Series, x: number, y: number) {
  const r = Math.min(s.radius, 4.5);
  ctx.save();
  ctx.strokeStyle = s.color;
  ctx.lineWidth = s.lineWidth ?? 1.2;
  ctx.beginPath();
  if (s.mark === "cross" || s.mark === "star") {
    ctx.moveTo(x - r, y);
    ctx.lineTo(x + r, y);
    ctx.moveTo(x, y - r);
    ctx.lineTo(x, y + r);
  }
  if (s.mark === "crossRot" || s.mark === "star") {
    const d = r * (s.mark === "star" ? Math.SQRT1_2 : 0.9);
    ctx.moveTo(x - d, y - d);
    ctx.lineTo(x + d, y + d);
    ctx.moveTo(x - d, y + d);
    ctx.lineTo(x + d, y - d);
  }
  ctx.stroke();
  ctx.restore();
}

function makeDecor(spec: PanelSpec) {
  return {
    id: "decor",
    beforeDatasetsDraw(chart: any) {
      const { ctx, chartArea: a, scales } = chart;
      const xs = scales.x;
      const ys = scales.y;
      ctx.save();
      // dotted grid
      ctx.strokeStyle = "#cfcfcf";
      ctx.lineWidth = 1;
      ctx.setLineDash([1.5, 2.5]);
      ctx.beginPath();
      for (const v of spec.xTicks) {
        const px = Math.round(xs.getPixelForValue(v)) + 0.5;
        if (px <= a.left + 2 || px >= a.right - 2) continue;
        ctx.moveTo(px, a.top);
        ctx.lineTo(px, a.bottom);
      }
      for (const v of spec.yTicks) {
        const py = Math.round(ys.getPixelForValue(v)) + 0.5;
        if (py <= a.top + 2 || py >= a.bottom - 2) continue;
        ctx.moveTo(a.left, py);
        ctx.lineTo(a.right, py);
      }
      ctx.stroke();
      ctx.setLineDash([]);

      // body part labels
      ctx.fillStyle = "#262626";
      ctx.font = `16px ${SERIF}`;
      ctx.textAlign = "center";
      ctx.textBaseline = "middle";
      for (const n of spec.notes) {
        ctx.fillText(n.text, xs.getPixelForValue(n.at[0]), ys.getPixelForValue(n.at[1]));
      }

      // key
      ctx.font = `11px ${SANS}`;
      ctx.textAlign = "right";
      ctx.fillStyle = "#1a1a1a";
      for (const s of spec.series) {
        if (s.keyRow === undefined) continue;
        const yy = a.top + 11.5 + s.keyRow * 13;
        ctx.fillText(s.label, a.right - 48, yy);
        drawGlyph(ctx, s, a.right - 27, yy);
      }
      ctx.restore();
    },
    afterDatasetsDraw(chart: any) {
      const { ctx, chartArea: a, scales } = chart;
      const xs = scales.x;
      const ys = scales.y;
      ctx.save();
      // frame
      ctx.strokeStyle = "#1c1c1c";
      ctx.lineWidth = 1.5;
      ctx.strokeRect(a.left, a.top, a.right - a.left, a.bottom - a.top);
      // inward tick marks on all four sides
      ctx.lineWidth = 1.2;
      ctx.strokeStyle = "#333";
      ctx.beginPath();
      const t = 5;
      for (const v of spec.xTicks) {
        const px = xs.getPixelForValue(v);
        if (px <= a.left + 2 || px >= a.right - 2) continue;
        ctx.moveTo(px, a.bottom);
        ctx.lineTo(px, a.bottom - t);
        ctx.moveTo(px, a.top);
        ctx.lineTo(px, a.top + t);
      }
      for (const v of spec.yTicks) {
        const py = ys.getPixelForValue(v);
        if (py <= a.top + 2 || py >= a.bottom - 2) continue;
        ctx.moveTo(a.left, py);
        ctx.lineTo(a.left + t, py);
        ctx.moveTo(a.right, py);
        ctx.lineTo(a.right - t, py);
      }
      ctx.stroke();

      // axis titles
      ctx.fillStyle = "#1a1a1a";
      ctx.font = `11px ${SANS}`;
      ctx.textAlign = "center";
      ctx.textBaseline = "middle";
      ctx.fillText("x (m)", (a.left + a.right) / 2, a.bottom + 32);
      ctx.translate(spec.yTitleX, (a.top + a.bottom) / 2);
      ctx.rotate(-Math.PI / 2);
      ctx.fillText("y (m)", 0, 0);
      ctx.restore();
    },
  };
}

function buildConfig(spec: PanelSpec): any {
  const tickFont = { family: SANS, size: 11 };
  return {
    type: "scatter",
    data: {
      datasets: spec.series.map((s) => ({
        label: s.label,
        data: s.data.map(([x, y]) => ({ x, y })),
        pointStyle: s.mark,
        pointRadius: s.radius,
        pointHoverRadius: s.radius,
        pointBorderWidth: s.lineWidth ?? 1.2,
        pointBorderColor: s.color,
        pointBackgroundColor: s.filled ? s.color : "rgba(0,0,0,0)",
        showLine: false,
        clip: false,
        order: s.order,
      })),
    },
    options: {
      animation: false,
      responsive: false,
      events: [],
      layout: {
        autoPadding: false,
        padding: { left: 0, top: spec.padTop, right: spec.padRight, bottom: 0 },
      },
      plugins: {
        legend: { display: false },
        tooltip: { enabled: false },
      },
      scales: {
        x: {
          type: "linear",
          min: spec.xRange[0],
          max: spec.xRange[1],
          afterBuildTicks: (sc: any) => {
            sc.ticks = spec.xTicks.map((value) => ({ value }));
          },
          afterFit: (sc: any) => {
            sc.height = spec.height - spec.plotBottom;
          },
          grid: { display: false, drawTicks: false },
          border: { display: false },
          ticks: {
            padding: 7,
            color: "#1a1a1a",
            font: tickFont,
            autoSkip: false,
            maxRotation: 0,
            callback: (v: number) => fmt(v),
          },
        },
        y: {
          type: "linear",
          min: spec.yRange[0],
          max: spec.yRange[1],
          afterBuildTicks: (sc: any) => {
            sc.ticks = spec.yTicks.map((value) => ({ value }));
          },
          afterFit: (sc: any) => {
            sc.width = spec.plotLeft;
          },
          grid: { display: false, drawTicks: false },
          border: { display: false },
          ticks: {
            padding: 6,
            color: "#1a1a1a",
            font: tickFont,
            autoSkip: false,
            callback: (v: number) => fmt(v),
          },
        },
      },
    },
    plugins: [makeDecor(spec)],
  };
}

function Panel({ spec }: { spec: PanelSpec }) {
  const ref = useRef<HTMLCanvasElement>(null);
  useEffect(() => {
    const chart = new Chart(ref.current as HTMLCanvasElement, buildConfig(spec));
    return () => chart.destroy();
  }, [spec]);
  return (
    <>
      <canvas
        ref={ref}
        width={spec.width}
        height={spec.height}
        style={{ position: "absolute", left: spec.left, top: 0, width: spec.width, height: spec.height }}
      />
      <div
        style={{
          position: "absolute",
          left: spec.captionX - 170,
          top: 674,
          width: 340,
          textAlign: "center",
          fontFamily: SERIF,
          fontSize: 23,
          lineHeight: "27px",
          letterSpacing: "1.2px",
          color: "#111",
        }}
      >
        {spec.caption[0]}
        <br />
        {spec.caption[1]}
      </div>
    </>
  );
}

export default function App() {
  return (
    <div
      style={{
        position: "fixed",
        left: 0,
        top: 0,
        width: 1144,
        height: 727,
        background: "#fff",
        overflow: "hidden",
      }}
    >
      {PANELS.map((p, i) => (
        <Panel key={i} spec={p} />
      ))}
    </div>
  );
}
